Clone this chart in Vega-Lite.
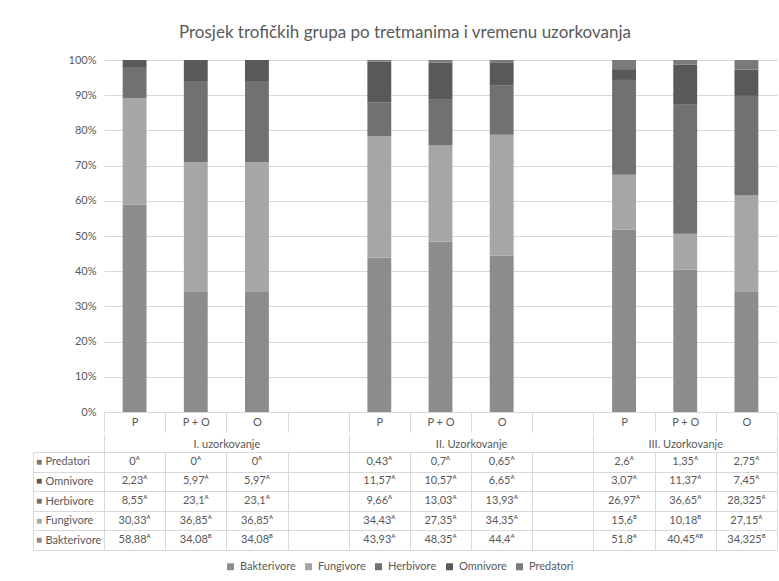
{
  "$schema": "https://vega.github.io/schema/vega-lite/v6.json",
  "background": "white",
  "padding": {"left": 32, "right": 2, "top": 24, "bottom": 8},
  "autosize": {"type": "pad"},
  "spacing": 0,
  "title": {"text": "Prosjek trofičkih grupa po tretmanima i vremenu uzorkovanja", "font": "Lato", "fontSize": 17, "fontWeight": "normal", "color": "#595959", "anchor": "middle", "offset": 12},
  "config": {"font": "Lato", "view": {"stroke": null}, "axis": {"labelFont": "Lato"}, "legend": {"labelFont": "Lato"}},
  "datasets": {
    "trofi": [
      {"stupac": "I|P", "grupa": "Bakterivore", "value": 58.88, "sig": "A"},
      {"stupac": "I|P", "grupa": "Fungivore", "value": 30.33, "sig": "A"},
      {"stupac": "I|P", "grupa": "Herbivore", "value": 8.55, "sig": "A"},
      {"stupac": "I|P", "grupa": "Omnivore", "value": 2.23, "sig": "A"},
      {"stupac": "I|P", "grupa": "Predatori", "value": 0, "sig": "A"},
      {"stupac": "I|P + O", "grupa": "Bakterivore", "value": 34.08, "sig": "B"},
      {"stupac": "I|P + O", "grupa": "Fungivore", "value": 36.85, "sig": "A"},
      {"stupac": "I|P + O", "grupa": "Herbivore", "value": 23.1, "sig": "A"},
      {"stupac": "I|P + O", "grupa": "Omnivore", "value": 5.97, "sig": "A"},
      {"stupac": "I|P + O", "grupa": "Predatori", "value": 0, "sig": "A"},
      {"stupac": "I|O", "grupa": "Bakterivore", "value": 34.08, "sig": "B"},
      {"stupac": "I|O", "grupa": "Fungivore", "value": 36.85, "sig": "A"},
      {"stupac": "I|O", "grupa": "Herbivore", "value": 23.1, "sig": "A"},
      {"stupac": "I|O", "grupa": "Omnivore", "value": 5.97, "sig": "A"},
      {"stupac": "I|O", "grupa": "Predatori", "value": 0, "sig": "A"},
      {"stupac": "II|P", "grupa": "Bakterivore", "value": 43.93, "sig": "A"},
      {"stupac": "II|P", "grupa": "Fungivore", "value": 34.43, "sig": "A"},
      {"stupac": "II|P", "grupa": "Herbivore", "value": 9.66, "sig": "A"},
      {"stupac": "II|P", "grupa": "Omnivore", "value": 11.57, "sig": "A"},
      {"stupac": "II|P", "grupa": "Predatori", "value": 0.43, "sig": "A"},
      {"stupac": "II|P + O", "grupa": "Bakterivore", "value": 48.35, "sig": "A"},
      {"stupac": "II|P + O", "grupa": "Fungivore", "value": 27.35, "sig": "A"},
      {"stupac": "II|P + O", "grupa": "Herbivore", "value": 13.03, "sig": "A"},
      {"stupac": "II|P + O", "grupa": "Omnivore", "value": 10.57, "sig": "A"},
      {"stupac": "II|P + O", "grupa": "Predatori", "value": 0.7, "sig": "A"},
      {"stupac": "II|O", "grupa": "Bakterivore", "value": 44.4, "sig": "A"},
      {"stupac": "II|O", "grupa": "Fungivore", "value": 34.35, "sig": "A"},
      {"stupac": "II|O", "grupa": "Herbivore", "value": 13.93, "sig": "A"},
      {"stupac": "II|O", "grupa": "Omnivore", "value": 6.65, "sig": "A"},
      {"stupac": "II|O", "grupa": "Predatori", "value": 0.65, "sig": "A"},
      {"stupac": "III|P", "grupa": "Bakterivore", "value": 51.8, "sig": "A"},
      {"stupac": "III|P", "grupa": "Fungivore", "value": 15.6, "sig": "B"},
      {"stupac": "III|P", "grupa": "Herbivore", "value": 26.97, "sig": "A"},
      {"stupac": "III|P", "grupa": "Omnivore", "value": 3.07, "sig": "A"},
      {"stupac": "III|P", "grupa": "Predatori", "value": 2.6, "sig": "A"},
      {"stupac": "III|P + O", "grupa": "Bakterivore", "value": 40.45, "sig": "AB"},
      {"stupac": "III|P + O", "grupa": "Fungivore", "value": 10.18, "sig": "B"},
      {"stupac": "III|P + O", "grupa": "Herbivore", "value": 36.65, "sig": "A"},
      {"stupac": "III|P + O", "grupa": "Omnivore", "value": 11.37, "sig": "A"},
      {"stupac": "III|P + O", "grupa": "Predatori", "value": 1.35, "sig": "A"},
      {"stupac": "III|O", "grupa": "Bakterivore", "value": 34.325, "sig": "B"},
      {"stupac": "III|O", "grupa": "Fungivore", "value": 27.15, "sig": "A"},
      {"stupac": "III|O", "grupa": "Herbivore", "value": 28.325, "sig": "A"},
      {"stupac": "III|O", "grupa": "Omnivore", "value": 7.45, "sig": "A"},
      {"stupac": "III|O", "grupa": "Predatori", "value": 2.75, "sig": "A"}
    ]
  },
  "vconcat": [
    {
      "width": 673,
      "height": 352,
      "data": {"name": "trofi"},
      "mark": {"type": "bar", "width": {"band": 0.39}},
      "encoding": {
        "x": {
          "field": "stupac", "type": "nominal", "sort": null,
          "scale": {"type": "band", "domain": ["I|P", "I|P + O", "I|O", "I|", "II|P", "II|P + O", "II|O", "II|", "III|P", "III|P + O", "III|O"], "paddingInner": 0, "paddingOuter": 0},
          "axis": {"title": null, "labelExpr": "split(datum.value, '|')[1]", "labelAngle": 0, "labelPadding": -16, "labelFontSize": 11, "labelColor": "#595959", "tickBand": "extent", "tickSize": 20, "tickColor": "#d9d9d9", "domainColor": "#d9d9d9", "grid": false}
        },
        "y": {
          "field": "value", "type": "quantitative", "stack": "normalize",
          "axis": {"title": null, "format": ".0%", "values": [0, 0.1, 0.2, 0.3, 0.4, 0.5, 0.6, 0.7, 0.8, 0.9, 1], "domain": false, "ticks": false, "gridColor": "#d9d9d9", "labelFontSize": 11, "labelColor": "#595959", "labelPadding": 8}
        },
        "order": {"field": "grupa", "sort": "ascending"},
        "color": {
          "field": "grupa", "type": "nominal",
          "scale": {"domain": ["Bakterivore", "Fungivore", "Herbivore", "Omnivore", "Predatori"], "range": ["#8c8c8c", "#a6a6a6", "#717171", "#595959", "#7a7a7a"]},
          "legend": {"orient": "none", "legendX": 121, "legendY": 501, "direction": "horizontal", "title": null, "symbolType": "square", "symbolSize": 49, "symbolStrokeWidth": 0, "labelFontSize": 11, "labelColor": "#595959", "columnPadding": 7, "labelOffset": 4}
        }
      }
    },
    {
      "width": 673,
      "height": 98,
      "data": {"name": "trofi"},
      "layer": [
        {
          "mark": {"type": "text", "fontSize": 11, "color": "#595959", "text": {"expr": "replace('' + datum.value, '.', ',') + replace(replace(datum.sig, 'A', 'ᴬ'), 'B', 'ᴮ')"}},
          "encoding": {
            "x": {
              "field": "stupac", "type": "nominal",
              "scale": {"type": "band", "domain": ["I|P", "I|P + O", "I|O", "I|", "II|P", "II|P + O", "II|O", "II|", "III|P", "III|P + O", "III|O"], "paddingInner": 0, "paddingOuter": 0},
              "axis": {
                "orient": "top", "title": null, "domain": false, "grid": true, "gridColor": "#d9d9d9", "tickBand": "extent",
                "tickSize": 18,
                "tickColor": {"condition": {"test": "datum.value == 'I|' || datum.value == 'II|' || datum.value == 'III|O' || !datum.value", "value": "#d9d9d9"}, "value": "transparent"},
                "labelExpr": "datum.value == 'I|P + O' ? 'I. uzorkovanje' : datum.value == 'II|P + O' ? 'II. Uzorkovanje' : datum.value == 'III|P + O' ? 'III. Uzorkovanje' : ''",
                "labelOffset": {"condition": {"test": "datum.value == 'III|P + O'", "value": 0}, "value": 30.6},
                "labelBaseline": "middle", "labelPadding": -10, "labelAngle": 0,
                "labelFontSize": 11, "labelColor": "#595959"
              }
            },
            "y": {
              "field": "grupa", "type": "nominal",
              "scale": {"type": "band", "domain": ["Predatori", "Omnivore", "Herbivore", "Fungivore", "Bakterivore"], "paddingInner": 0, "paddingOuter": 0},
              "axis": {"title": null, "offset": 71, "domainColor": "#d9d9d9", "tickBand": "extent", "tickSize": -71, "tickColor": "#d9d9d9", "grid": true, "gridColor": "#d9d9d9", "labelAlign": "left", "labelBaseline": "middle", "labelPadding": 59, "labelFontSize": 11, "labelColor": "#595959"}
            }
          }
        },
        {
          "transform": [{"filter": "datum.stupac == 'I|P'"}],
          "mark": {"type": "text", "text": "■", "fontSize": 10, "dx": -65},
          "encoding": {
            "x": {"field": "stupac", "type": "nominal", "bandPosition": 0},
            "y": {"field": "grupa", "type": "nominal"},
            "color": {"field": "grupa", "type": "nominal"}
          }
        }
      ]
    }
  ]
}
